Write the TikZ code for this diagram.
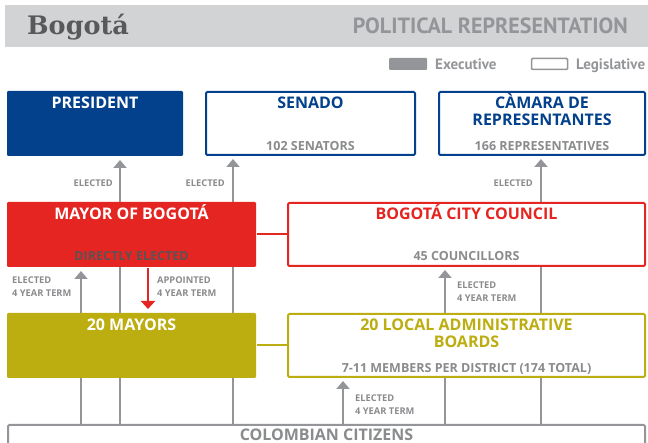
\documentclass[tikz,border=0pt]{standalone}
\usepackage{fontspec}
\setmainfont{Open Sans}
\newfontfamily\headfont{PT Sans}
\newfontfamily\slabfont{DejaVu Serif}
\usetikzlibrary{arrows.meta}
\definecolor{hdrgray}{HTML}{D1D3D4}
\definecolor{lgray}{HTML}{939598}
\definecolor{tgray}{HTML}{8A8B8D}
\definecolor{dgray}{HTML}{58595B}
\definecolor{cblue}{HTML}{03418C}
\definecolor{cred}{HTML}{E52521}
\definecolor{colive}{HTML}{BCAE10}
\definecolor{dirgray}{HTML}{5C5254}
\pgfdeclarelayer{bg}\pgfsetlayers{bg,main}
\begin{document}
\begin{tikzpicture}[x=1pt,y=-1pt,
  box/.style={rectangle, rounded corners=1.2pt, inner sep=0pt, line width=2pt},
  ttl/.style={font=\bfseries\fontsize{16}{16}\selectfont, anchor=base, inner sep=0pt},
  sub/.style={font=\bfseries\fontsize{12.5}{12.5}\selectfont, text=tgray, anchor=base, inner sep=0pt},
  lab/.style={font=\bfseries\fontsize{9.3}{13}\selectfont, text=tgray, inner sep=0pt, align=left},
  conn/.style={draw=lgray, line width=2pt},
  arr/.style={conn, -{Triangle[width=13pt,length=8pt]}, shorten >=3pt},
  redarr/.style={draw=cred, line width=2pt, -{Triangle[width=14pt,length=8pt]}, shorten >=3pt},
  legtext/.style={font=\headfont\bfseries\fontsize{15}{15}\selectfont, text=lgray, anchor=base west, inner sep=0pt},
]
\useasboundingbox (0,0) rectangle (648,443);
\clip (0,0) rectangle (648,443);
% header
\node[fill=hdrgray, inner sep=0pt, minimum width=643pt, minimum height=42pt, anchor=north west] (hdr) at (5,5) {};
\node[font=\slabfont\bfseries\fontsize{25.5}{25.5}\selectfont, text=dgray, anchor=base west, inner sep=0pt] (city) at (27,35) {Bogotá};
\node[font=\headfont\bfseries\fontsize{22}{22}\selectfont, text=lgray, anchor=base east, inner sep=0pt] (htitle) at (628,34) {POLITICAL REPRESENTATION};
% legend
\node[fill=lgray, inner sep=0pt, minimum width=38pt, minimum height=12pt, rounded corners=1pt] (legexec) at (408,64) {};
\node[legtext] (legexect) at (435,69.5) {Executive};
\node[draw=lgray, fill=white, line width=1.5pt, inner sep=0pt, minimum width=36pt, minimum height=11pt, rounded corners=1pt] (leglegis) at (549.5,64) {};
\node[legtext] (leglegist) at (576,69.5) {Legislative};
% boxes
\node[box, fill=cblue, minimum width=176pt, minimum height=65pt] (pres) at (95,123.5) {};
\node[box, draw=cblue, fill=white, minimum width=209pt, minimum height=63pt] (senado) at (310.5,123.5) {};
\node[box, draw=cblue, fill=white, minimum width=206pt, minimum height=63pt] (camara) at (542,123.5) {};
\node[box, fill=cred, minimum width=249pt, minimum height=65pt] (mayor) at (131.5,234.5) {};
\node[box, draw=cred, fill=white, minimum width=357pt, minimum height=63pt] (council) at (466.5,234.5) {};
\node[box, fill=colive, minimum width=249pt, minimum height=65pt] (mayors) at (131.5,345.5) {};
\node[box, draw=colive, fill=white, minimum width=357pt, minimum height=63pt] (boards) at (466.5,345.5) {};
\node[box, draw=lgray, fill=white, minimum width=637pt, minimum height=40pt, anchor=north] (citizens) at (326.5,424) {};
% box texts
\node[ttl, text=white] (pres-t) at ([yshift=-19pt]pres.north) {PRESIDENT};
\node[ttl, text=cblue] (senado-t) at ([yshift=-18pt]senado.north) {SENADO};
\node[sub] (senado-s) at ([yshift=5pt]senado.south) {102 SENATORS};
\node[ttl, text=cblue] (camara-t1) at ([yshift=-18pt]camara.north) {CÀMARA DE};
\node[ttl, text=cblue] (camara-t2) at ([yshift=-35pt]camara.north) {REPRESENTANTES};
\node[sub] (camara-s) at ([yshift=5pt]camara.south) {166 REPRESENTATIVES};
\node[ttl, text=white] (mayor-t) at ([yshift=-19pt]mayor.north) {MAYOR OF BOGOTÁ};
\node[sub, text=dirgray] (mayor-s) at ([yshift=7pt]mayor.south) {DIRECTLY ELECTED};
\node[ttl, text=cred] (council-t) at ([yshift=-18pt]council.north) {BOGOTÁ CITY COUNCIL};
\node[sub] (council-s) at ([yshift=6.5pt]council.south) {45 COUNCILLORS};
\node[ttl, text=white] (mayors-t) at ([yshift=-19pt]mayors.north) {20 MAYORS};
\node[ttl, text=colive] (boards-t1) at ([yshift=-18pt]boards.north) {20 LOCAL ADMINISTRATIVE};
\node[ttl, text=colive] (boards-t2) at ([yshift=-34.5pt]boards.north) {BOARDS};
\node[sub] (boards-s) at ([yshift=5.5pt]boards.south) {7-11 MEMBERS PER DISTRICT (174 TOTAL)};
\node[ttl, text=tgray] (citizens-t) at ([yshift=-16pt]citizens.north) {COLOMBIAN CITIZENS};
% column coordinates
\coordinate (c81) at (81,0);
\coordinate (c120) at (120,0);
\coordinate (c148) at (148,0);
\coordinate (c233) at (233,0);
\coordinate (c343) at (343,0);
\coordinate (c445) at (445,0);
\coordinate (c541) at (541,0);
% connectors
\begin{pgfonlayer}{bg}
\draw[arr] (citizens.north -| c120) -- (pres.south -| c120);
\draw[arr] (citizens.north -| c233) -- (senado.south -| c233);
\draw[arr] (citizens.north -| c81) -- (mayor.south -| c81);
\draw[arr] (citizens.north -| c541) -- (camara.south -| c541);
\draw[arr] (citizens.north -| c445) -- (council.south -| c445);
\draw[arr] (citizens.north -| c343) -- (boards.south -| c343);
\draw[draw=cred, line width=2pt] (mayor.east) -- (council.west);
\draw[draw=colive, line width=2pt] (mayors.east) -- (boards.west);
\end{pgfonlayer}
\draw[redarr] (mayor.south -| c148) -- (mayors.north -| c148);
% labels
\node[lab, anchor=east] (l1) at (113,183) {ELECTED};
\node[lab, anchor=east] (l2) at (225,183) {ELECTED};
\node[lab, anchor=east] (l3) at (533,183) {ELECTED};
\node[lab, anchor=west] (l4) at (12,286.5) {ELECTED\\4 YEAR TERM};
\node[lab, anchor=west] (l5) at (157,286.5) {APPOINTED\\4 YEAR TERM};
\node[lab, anchor=west] (l6) at (457,291.5) {ELECTED\\4 YEAR TERM};
\node[lab, anchor=west] (l7) at (355,404.5) {ELECTED\\4 YEAR TERM};
\end{tikzpicture}
\end{document}
